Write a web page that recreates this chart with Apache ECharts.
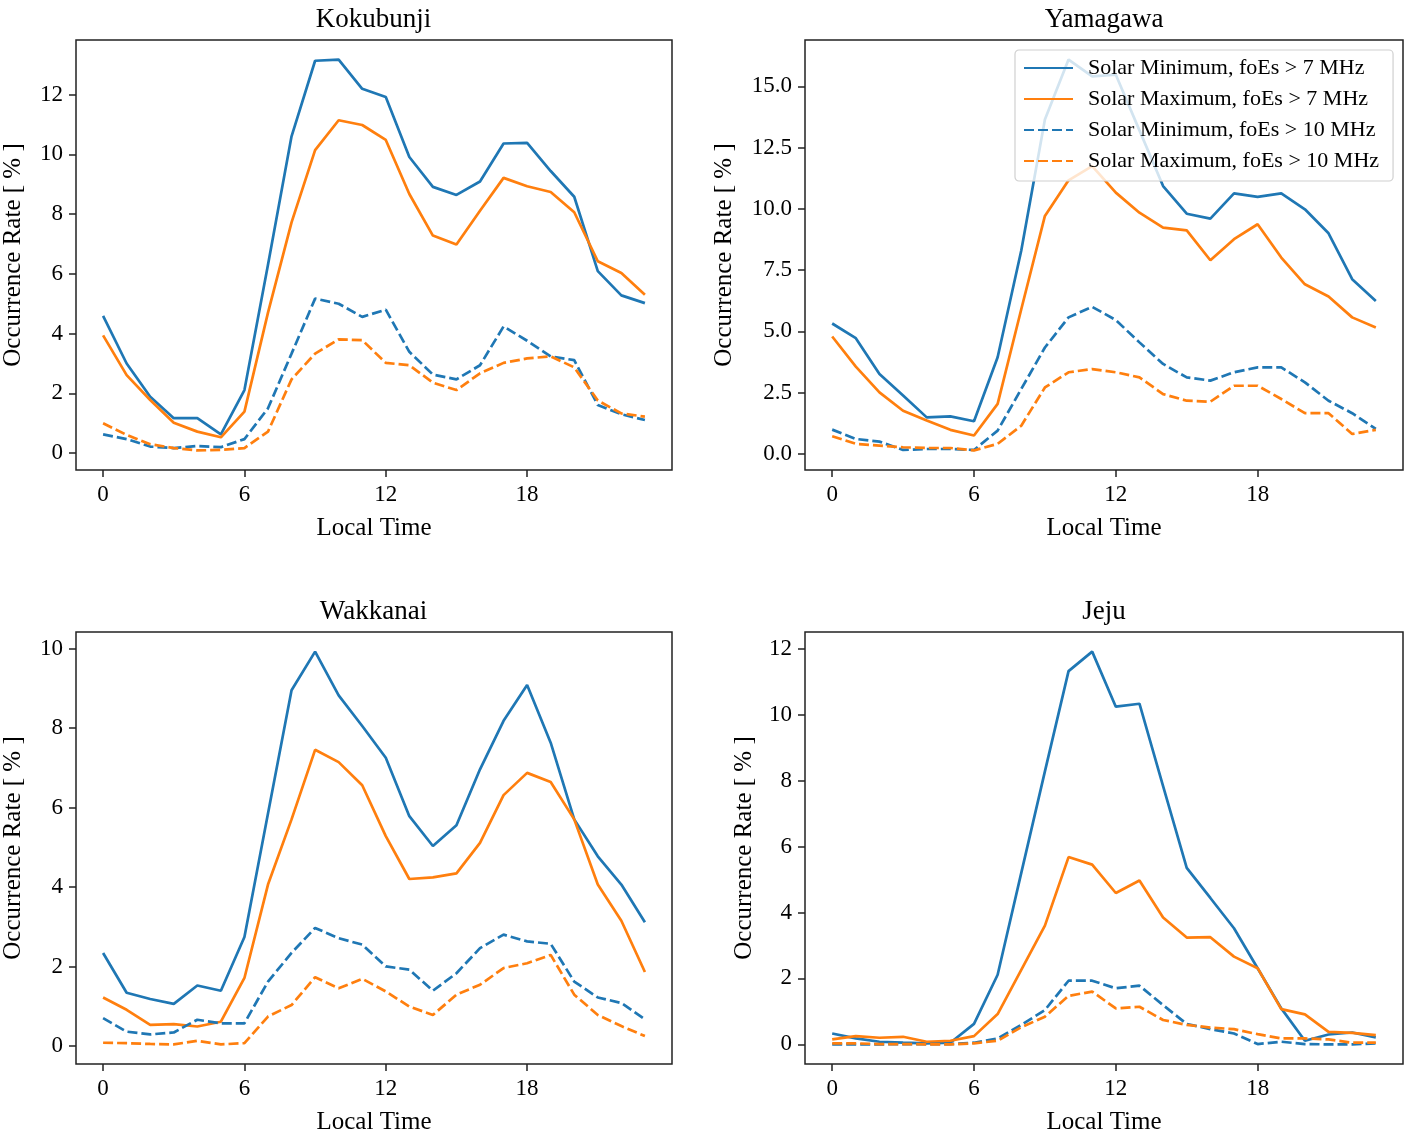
<!DOCTYPE html>
<html>
<head>
<meta charset="utf-8">
<script src="https://cdn.jsdelivr.net/npm/echarts@6/dist/echarts.min.js"></script>
<style>
html,body{margin:0;padding:0;background:#fff;}
#chart{width:1409px;height:1136px;}
</style>
</head>
<body>
<div id="chart"></div>
<script>
const hours = [0,1,2,3,4,5,6,7,8,9,10,11,12,13,14,15,16,17,18,19,20,21,22,23];
const seriesNames = ["Solar Minimum, foEs > 7 MHz","Solar Maximum, foEs > 7 MHz","Solar Minimum, foEs > 10 MHz","Solar Maximum, foEs > 10 MHz"];
const stations = ["Kokubunji","Yamagawa","Wakkanai","Jeju"];
const xTicks = [0,6,12,18];

const kokMin7  = [4.59,3.0,1.89,1.17,1.17,0.63,2.11,6.3,10.6,13.13,13.17,12.19,11.92,9.91,8.91,8.64,9.09,10.36,10.38,9.44,8.58,6.09,5.28,5.02];
const kokMax7  = [3.94,2.61,1.78,1.02,0.72,0.53,1.39,4.7,7.72,10.14,11.14,10.98,10.48,8.67,7.28,6.98,8.11,9.21,8.93,8.74,8.06,6.42,6.03,5.3];
const kokMin10 = [0.63,0.47,0.22,0.17,0.24,0.2,0.47,1.5,3.33,5.17,5.0,4.56,4.8,3.39,2.63,2.47,2.94,4.24,3.76,3.24,3.11,1.61,1.3,1.11];
const kokMax10 = [1.0,0.61,0.3,0.17,0.09,0.11,0.17,0.72,2.47,3.33,3.81,3.78,3.02,2.94,2.36,2.11,2.67,3.02,3.17,3.24,2.87,1.76,1.33,1.22];

const yamMin7  = [5.32,4.72,3.26,2.38,1.49,1.53,1.33,3.94,8.3,13.64,16.09,15.4,15.47,13.2,10.93,9.8,9.6,10.63,10.49,10.63,9.98,9.0,7.13,6.24];
const yamMax7  = [4.79,3.56,2.51,1.76,1.36,0.98,0.75,2.04,5.9,9.71,11.16,11.74,10.66,9.84,9.23,9.12,7.9,8.76,9.37,8.01,6.92,6.42,5.57,5.16];
const yamMin10 = [0.99,0.61,0.5,0.16,0.2,0.2,0.16,0.95,2.65,4.34,5.57,6.0,5.46,4.55,3.67,3.12,2.99,3.33,3.53,3.53,2.92,2.17,1.66,1.02];
const yamMax10 = [0.72,0.41,0.34,0.27,0.24,0.24,0.14,0.41,1.15,2.71,3.33,3.46,3.33,3.12,2.44,2.17,2.13,2.78,2.78,2.24,1.66,1.66,0.81,0.98];

const wakMin7  = [2.34,1.34,1.18,1.06,1.52,1.39,2.74,5.85,8.95,9.92,8.82,8.05,7.25,5.78,5.03,5.55,6.96,8.18,9.08,7.63,5.7,4.77,4.06,3.11];
const wakMax7  = [1.22,0.91,0.53,0.55,0.49,0.61,1.71,4.06,5.7,7.45,7.14,6.56,5.28,4.2,4.24,4.34,5.11,6.31,6.87,6.64,5.7,4.06,3.15,1.86];
const wakMin10 = [0.7,0.36,0.29,0.34,0.66,0.57,0.57,1.62,2.34,2.97,2.71,2.55,2.0,1.92,1.39,1.83,2.46,2.8,2.63,2.57,1.62,1.22,1.08,0.67];
const wakMax10 = [0.08,0.07,0.05,0.04,0.13,0.04,0.07,0.74,1.03,1.73,1.45,1.69,1.37,0.99,0.78,1.29,1.54,1.96,2.08,2.29,1.29,0.78,0.5,0.25];

const jejMin7  = [0.33,0.18,0.08,0.05,0.03,0.05,0.62,2.11,5.2,8.28,11.32,11.91,10.24,10.33,7.83,5.35,4.44,3.52,2.31,1.09,0.11,0.3,0.36,0.21];
const jejMax7  = [0.15,0.25,0.2,0.23,0.08,0.11,0.25,0.92,2.26,3.6,5.68,5.45,4.59,4.97,3.85,3.24,3.25,2.66,2.31,1.07,0.91,0.38,0.35,0.28];
const jejMin10 = [0.0,0.0,0.0,0.01,0.01,0.01,0.05,0.18,0.59,1.04,1.93,1.93,1.7,1.78,1.19,0.62,0.46,0.33,0.01,0.08,0.01,0.0,0.0,0.03];
const jejMax10 = [0.03,0.03,0.01,0.01,0.0,0.0,0.03,0.11,0.52,0.84,1.47,1.6,1.09,1.14,0.74,0.59,0.51,0.46,0.31,0.18,0.18,0.15,0.05,0.05];

const yTicks1 = [0,2,4,6,8,10,12];
const yTicks2 = [0,2.5,5,7.5,10,12.5,15];
const yTicks3 = [0,2,4,6,8,10];
const yTicks4 = [0,2,4,6,8,10,12];

const panelData = [
  [kokMin7,kokMax7,kokMin10,kokMax10],
  [yamMin7,yamMax7,yamMin10,yamMax10],
  [wakMin7,wakMax7,wakMin10,wakMax10],
  [jejMin7,jejMax7,jejMin10,jejMax10]
];
const panelTicks = [yTicks1,yTicks2,yTicks3,yTicks4];

// layout (styles only)
const FONT = '"Liberation Serif", "Times New Roman", serif';
const BLUE = '#1f77b4', ORANGE = '#ff7f0e';
const colors = [BLUE, ORANGE, BLUE, ORANGE];
const dashed = [false,false,true,true];
const grids = [
  {left:75, top:40, width:597, height:430},
  {left:805, top:40, width:598, height:430},
  {left:75, top:632, width:597, height:433},
  {left:805, top:632, width:598, height:433}
];
const nameGaps = [50, 68, 50, 48];
const titleTops = [6, 6, 598, 598];
const labelDecimals = [0,1,0,0];

const option = {
  backgroundColor:'#fff',
  animation:false,
  title: stations.map((s,i)=>({
    text:s, left: grids[i].left + grids[i].width/2, top: titleTops[i], textAlign:'center', padding:0,
    textStyle:{fontFamily:FONT, fontSize:27, fontWeight:'normal', color:'#000'}
  })),
  legend:{
    data: seriesNames,
    orient:'vertical',
    left:1015, top:50,
    padding:[7,14,9,8],
    itemWidth:49, itemHeight:14, itemGap:9,
    backgroundColor:'rgba(255,255,255,0.8)',
    borderColor:'#d0d0d0', borderWidth:1.2, borderRadius:4,
    itemStyle:{color:'rgba(0,0,0,0)', borderColor:'rgba(0,0,0,0)', borderWidth:0},
    textStyle:{fontFamily:FONT, fontSize:22, color:'#000', padding:[0,0,0,10]},
    selectedMode:false
  },
  grid: grids.map(g=>Object.assign({show:true, borderColor:'#222', borderWidth:1.5, backgroundColor:'transparent'}, g)),
  xAxis: grids.map((g,i)=>({
    type:'value', gridIndex:i, min:-1.15, max:24.15,
    name:'Local Time', nameLocation:'middle', nameGap:46,
    nameTextStyle:{fontFamily:FONT, fontSize:25, color:'#000'},
    axisLine:{show:false, onZero:false},
    axisTick:{show:true, length:7, lineStyle:{color:'#222', width:1.5}, customValues:xTicks},
    axisLabel:{fontFamily:FONT, fontSize:23, color:'#000', margin:13, customValues:xTicks},
    splitLine:{show:false}
  })),
  yAxis: grids.map((g,i)=>{
    const all = [].concat(...panelData[i]);
    const lo = Math.min(...all), hi = Math.max(...all);
    const pad = (hi-lo)*0.05;
    return {
      type:'value', gridIndex:i, min:lo-pad, max:hi+pad,
      name:'Occurrence Rate [ % ]', nameLocation:'middle', nameGap:nameGaps[i],
      nameTextStyle:{fontFamily:FONT, fontSize:25, color:'#000'},
      axisLine:{show:false, onZero:false},
      axisTick:{show:true, length:7, lineStyle:{color:'#222', width:1.5}, customValues:panelTicks[i]},
      axisLabel:{fontFamily:FONT, fontSize:23, color:'#000', margin:13, customValues:panelTicks[i],
        formatter: v => Number(v).toFixed(labelDecimals[i])},
      splitLine:{show:false}
    };
  }),
  series: []
};

panelData.forEach((sets,p)=>{
  sets.forEach((vals,k)=>{
    option.series.push({
      type:'line', name:seriesNames[k], xAxisIndex:p, yAxisIndex:p,
      data: hours.map((h,j)=>[h, vals[j]]),
      symbol:'none', showSymbol:false, smooth:false,
      lineStyle:{color:colors[k], width:2.7, type: dashed[k] ? [10,4] : 'solid'},
      itemStyle:{color:colors[k]},
      z: 2
    });
  });
});

const chart = echarts.init(document.getElementById('chart'), null, {renderer:'canvas'});
chart.setOption(option);
</script>
</body>
</html>
